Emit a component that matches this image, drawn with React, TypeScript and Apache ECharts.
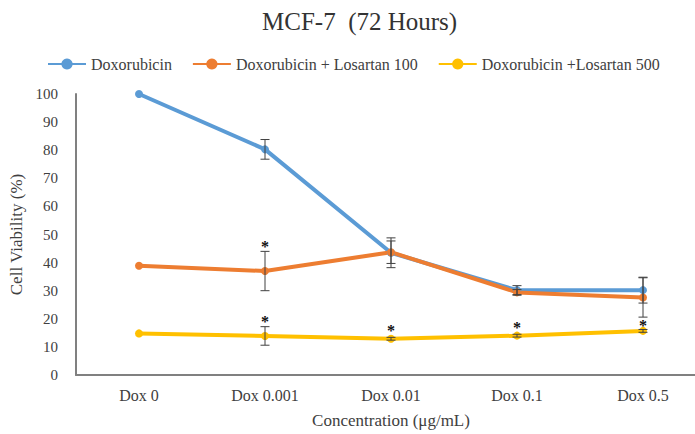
import React, { useEffect, useRef } from "react";
import * as echarts from "echarts";

const categories = ["Dox 0", "Dox 0.001", "Dox 0.01", "Dox 0.1", "Dox 0.5"];
const seriesNames = ["Doxorubicin", "Doxorubicin + Losartan 100", "Doxorubicin +Losartan 500"];
const doxorubicin = [100, 80.3, 43.5, 30.2, 30.2];
const doxorubicinErr = [0, 3.5, 5.3, 1.6, 4.6];
const losartan100 = [38.9, 37.0, 43.7, 29.4, 27.6];
const losartan100Err = [0, 7.0, 4.0, 1.0, 7.0];
const losartan500 = [14.8, 13.9, 12.9, 14.0, 15.7];
const losartan500Err = [0, 3.3, 0.5, 0.5, 0.5];
const asteriskCategory = [1, 1, 2, 3, 4];
const asteriskValue = [47.3, 20.6, 17.1, 18.5, 18.9];
const yMin = 0;
const yMax = 100;
const yInterval = 10;
const colors = ["#5B9BD5", "#ED7D31", "#FFC000"];

const FONT = "'Liberation Serif', 'Times New Roman', serif";
const TEXT = "#404040";

function errData(vals: number[], errs: number[]) {
  return vals
    .map((v, i) => [i, v - errs[i], v + errs[i], errs[i]])
    .filter((d) => d[3] > 0);
}

const errRender = (params: any, api: any) => {
  const i = api.value(0);
  const lo = api.coord([i, api.value(1)]);
  const hi = api.coord([i, api.value(2)]);
  const w = 4.5;
  const style = { stroke: "#404040", lineWidth: 1 };
  return {
    type: "group",
    children: [
      { type: "line", shape: { x1: lo[0], y1: lo[1], x2: hi[0], y2: hi[1] }, style },
      { type: "line", shape: { x1: hi[0] - w, y1: hi[1], x2: hi[0] + w, y2: hi[1] }, style },
      { type: "line", shape: { x1: lo[0] - w, y1: lo[1], x2: lo[0] + w, y2: lo[1] }, style },
    ],
  };
};

const starRender = (params: any, api: any) => {
  const p = api.coord([api.value(0), api.value(1)]);
  return {
    type: "text",
    x: p[0],
    y: p[1] + 4,
    style: {
      text: "*",
      align: "center",
      verticalAlign: "middle",
      fontFamily: FONT,
      fontSize: 16,
      fontWeight: "bold",
      fill: "#111",
    },
  };
};

export default function App() {
  const ref = useRef<HTMLDivElement>(null);
  useEffect(() => {
    document.body.style.margin = "0";
    const chart = echarts.init(ref.current!, undefined, { renderer: "svg" });
    const lineVals = [doxorubicin, losartan100, losartan500];
    const errVals = [doxorubicinErr, losartan100Err, losartan500Err];
    const lineSeries = lineVals.map((vals, k) => ({
      name: seriesNames[k],
      type: "line",
      data: vals,
      symbol: "circle",
      symbolSize: 8,
      color: colors[k],
      lineStyle: { width: 4, color: colors[k] },
      itemStyle: { color: colors[k] },
      z: 2,
    }));
    const errSeries = errVals.map((errs, k) => ({
      type: "custom",
      name: "err" + k,
      data: errData(lineVals[k], errs),
      renderItem: errRender,
      z: 5,
      silent: true,
    }));
    const txt = (size: number) => ({
      fontFamily: FONT,
      fontSize: size,
      fontWeight: "normal",
      fontStyle: "normal",
      color: TEXT,
    });
    chart.setOption({
      animation: false,
      textStyle: { fontFamily: FONT, fontWeight: "normal" },
      title: {
        text: "MCF-7  (72 Hours)",
        left: 257,
        top: 4,
        textStyle: { ...txt(25), color: "#333" },
      },
      legend: {
        data: seriesNames,
        left: 42,
        top: 51,
        itemWidth: 38,
        itemHeight: 14,
        itemGap: 20,
        textStyle: txt(16),
      },
      grid: { left: 76, right: -11, top: 94, bottom: 59, outerBoundsMode: "none", containLabel: false },
      xAxis: {
        type: "category",
        data: categories,
        boundaryGap: true,
        axisLine: { lineStyle: { color: "#808080", width: 2 } },
        axisTick: { show: false },
        axisLabel: { ...txt(16), margin: 12 },
        name: "Concentration (μg/mL)",
        nameLocation: "middle",
        nameGap: 37,
        nameTextStyle: txt(17),
      },
      yAxis: {
        type: "value",
        min: yMin,
        max: yMax,
        interval: yInterval,
        splitLine: { show: false },
        axisLine: { show: true, lineStyle: { color: "#808080", width: 2 } },
        axisTick: { show: false },
        axisLabel: { ...txt(15), margin: 18 },
        name: "Cell Viability (%)",
        nameLocation: "middle",
        nameGap: 43,
        nameTextStyle: txt(17),
      },
      series: [
        ...lineSeries,
        ...errSeries,
        {
          type: "custom",
          name: "sig",
          data: asteriskCategory.map((c, i) => [c, asteriskValue[i]]),
          renderItem: starRender,
          z: 6,
          silent: true,
        },
      ],
    });
    return () => chart.dispose();
  }, []);
  return (
    <div
      ref={ref}
      style={{ position: "fixed", left: 0, top: 0, width: 695, height: 434, background: "#fff" }}
    />
  );
}
